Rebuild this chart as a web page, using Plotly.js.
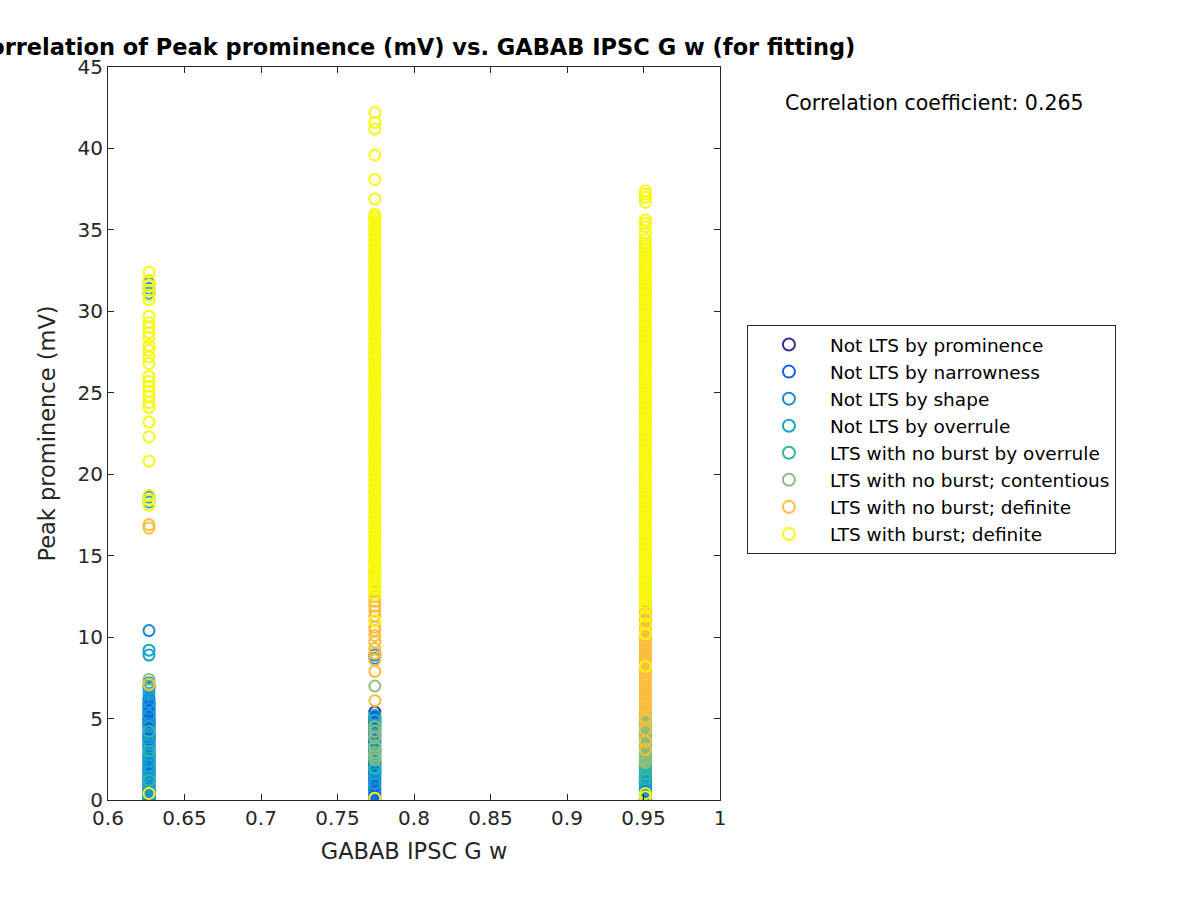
<!DOCTYPE html>
<html>
<head>
<meta charset="utf-8">
<script src="https://cdn.plot.ly/plotly-3.0.1.min.js"></script>
<style>html,body{margin:0;padding:0;background:#fff;}#chart{width:1200px;height:900px;}</style>
</head>
<body>
<div id="chart"></div>
<script>
// Column x positions (GABAB IPSC G w)
const xValues = [0.6268, 0.7744, 0.9512];

const categoryNames = [
  "Not LTS by prominence",
  "Not LTS by narrowness",
  "Not LTS by shape",
  "Not LTS by overrule",
  "LTS with no burst by overrule",
  "LTS with no burst; contentious",
  "LTS with no burst; definite",
  "LTS with burst; definite"
];
const categoryColors = ["#3D2A9C", "#0F62E8", "#1C86D9", "#10A5CB", "#2FB6A1", "#8ABF78", "#FCBD3C", "#F8F80E"];

// Peak prominence (mV) per category, per column [A, B, C]
const prominenceA = [4.6, 3.9, 1.2, 0.3];
const prominenceB = [0.1, 5.4, 5.0, 4.8, 3.6, 2.2];
const prominenceC = [0.3, 0.1];

const narrownessA = [0.03,0.14,0.26,0.37,0.49,0.61,0.72,0.84,0.95,1.07,1.19,1.3,1.42,1.53,1.65,1.77,1.88,2.0,2.11,2.23,2.35,2.46,2.58,2.69,2.81,2.93,3.04,3.16,3.27,3.39,3.51,3.62,3.74,3.85,3.97,4.09,4.2,4.32,4.43,4.55,4.67,4.78,4.9,5.01,5.13,5.25,5.36,5.48,5.59,5.71,5.83,5.94,6.06,6.2];
const narrownessB = [0.03,0.15,0.27,0.39,0.51,0.63,0.75,0.87,0.99,1.11,1.23,1.35,1.47,1.59,1.71,1.83,1.95,2.07,2.19,2.31,2.43,2.55,2.67,2.79,2.91,3.03,3.15,3.27,3.39,3.51,3.63,3.75,3.87,3.99,4.11,4.23,4.35,4.47,4.59,4.71,4.83,4.95,5.1];
const narrownessC = [0.03,0.14,0.26,0.38,0.5,0.62,0.74,0.86,0.98,1.1,1.22,1.34,1.46,1.58,1.7,1.9,2.1];

const shapeA = [10.4, 6.9, 5.6, 4.7, 3.4, 2.6, 1.9, 1.0, 0.5, 0.2, 31.4];
const shapeB = [8.7, 8.9, 4.3, 3.9, 2.6, 1.8, 1.3, 0.7];
const shapeC = [0.2, 0.6, 1.1, 1.4];

const overruleA = [9.2, 8.9, 7.2, 6.8, 6.5, 6.0, 5.2, 4.5, 4.0, 3.6, 3.2, 2.8, 2.4, 2.1, 1.7, 1.4, 0.9, 0.6, 0.1, 31.7, 31.1, 18.6, 18.3];
const overruleB = [5.2, 4.6, 3.4, 3.0, 2.4, 1.9, 1.6, 1.0];
const overruleC = [0.4, 0.7, 1.0, 1.3, 1.5, 1.8, 2.0, 2.2, 2.5];

const noBurstOverruleA = [7.0, 4.2, 3.0, 1.2];
const noBurstOverruleB = [4.9, 4.0, 3.2, 2.8, 2.0];
const noBurstOverruleC = [1.3, 1.6, 1.9, 2.1, 2.4, 2.7, 3.0, 3.3];

const contentiousA = [7.4];
const contentiousB = [7.0, 4.5, 4.2, 3.8, 3.3, 2.9, 2.7, 2.5];
const contentiousC = [2.3,2.42,2.54,2.66,2.78,2.9,3.02,3.14,3.26,3.38,3.5,3.62,3.74,3.86,3.98,4.1,4.22,4.34,4.46,4.58,4.7,4.82,4.94,5.06,5.18,5.3,5.42,5.54,5.6];

const definiteA = [16.7, 16.9, 7.1];
const definiteB = [6.1, 7.9, 8.6, 9.0, 9.3, 9.7, 10.1, 10.4, 10.6, 11.0, 11.3, 11.6, 11.9, 12.2, 12.5, 12.8, 13.1, 13.4, 13.7, 14.0];
const definiteC = [3.1,3.6,4.3,4.9,5.1,5.52,5.67,5.83,5.97,6.12,6.28,6.43,6.57,6.73,6.88,7.02,7.18,7.33,7.48,7.63,7.78,7.94,8.08,8.24,8.39,8.53,8.69,8.84,8.99,9.14,9.29,9.44,9.6,9.74,9.9,10.05,10.19,10.35,10.5,10.65,10.8,10.95,11.11,11.25,11.41,11.56,11.7,11.86,12.01,12.16,12.32,12.47,12.62,13.1,13.6];

const burstA = [0.4,18.1,18.4,18.7,20.8,22.3,23.2,24.1,24.4,24.8,25.1,25.4,25.7,26.0,26.8,27.2,27.6,27.9,28.4,28.7,29.0,29.3,29.7,30.7,31.0,31.3,31.6,31.9,32.4];
const burstB = [0.1,11.0,12.6,12.92,13.05,13.21,13.34,13.52,13.66,13.79,13.97,14.12,14.26,14.41,14.58,14.71,14.86,15.03,15.17,15.31,15.48,15.62,15.77,15.93,16.08,16.22,16.39,16.53,16.68,16.84,16.99,17.13,17.29,17.44,17.6,17.74,17.9,18.05,18.19,18.36,18.5,18.65,18.81,18.96,19.1,19.27,19.41,19.57,19.72,19.87,20.03,20.17,20.33,20.48,20.62,20.79,20.93,21.08,21.24,21.38,21.55,21.69,21.84,22.0,22.14,22.3,22.45,22.6,22.76,22.9,23.06,23.21,23.36,23.52,23.66,23.82,23.97,24.11,24.28,24.42,24.57,24.73,24.88,25.03,25.18,25.34,25.49,25.63,25.8,25.94,26.09,26.25,26.39,26.55,26.7,26.85,27.01,27.15,27.31,27.46,27.61,27.77,27.91,28.07,28.22,28.37,28.53,28.67,28.83,28.98,29.13,29.29,29.43,29.59,29.74,29.89,30.05,30.19,30.35,30.5,30.65,30.81,30.95,31.11,31.26,31.41,31.57,31.71,31.87,32.02,32.17,32.33,32.47,32.63,32.78,32.93,33.09,33.23,33.39,33.54,33.69,33.85,33.99,34.15,34.3,34.45,34.61,34.75,34.91,35.06,35.21,35.37,35.51,35.67,35.82,35.95,36.9,38.1,39.6,41.2,41.6,42.2];
const burstC = [0.4,0.2,8.2,10.2,10.8,11.3,11.8,12.1,12.31,12.46,12.6,12.77,12.91,13.06,13.22,13.37,13.51,13.68,13.82,13.97,14.13,14.27,14.43,14.58,14.72,14.89,15.03,15.18,15.34,15.48,15.64,15.79,15.94,16.1,16.24,16.4,16.55,16.7,16.86,17.0,17.16,17.31,17.46,17.62,17.76,17.92,18.07,18.22,18.38,18.52,18.68,18.83,18.98,19.14,19.28,19.44,19.59,19.74,19.9,20.04,20.2,20.35,20.5,20.66,20.8,20.96,21.11,21.26,21.42,21.56,21.72,21.87,22.02,22.18,22.32,22.48,22.63,22.78,22.94,23.08,23.24,23.39,23.54,23.7,23.84,24.0,24.15,24.3,24.46,24.6,24.76,24.91,25.06,25.22,25.36,25.52,25.67,25.82,25.98,26.12,26.28,26.43,26.58,26.74,26.88,27.04,27.19,27.34,27.5,27.64,27.8,27.95,28.1,28.26,28.4,28.56,28.71,28.86,29.02,29.16,29.32,29.47,29.62,29.78,29.92,30.08,30.23,30.38,30.54,30.68,30.84,30.99,31.14,31.3,31.44,31.6,31.75,31.9,32.06,32.2,32.36,32.51,32.66,32.82,32.96,33.12,33.27,33.42,33.58,33.72,33.88,34.03,34.18,34.4,34.8,35.2,35.4,35.6,36.7,37.0,37.2,37.4];

const xTickVals = [0.6,0.65,0.7,0.75,0.8,0.85,0.9,0.95,1];
const xTickText = ["0.6","0.65","0.7","0.75","0.8","0.85","0.9","0.95","1"];
const yTickVals = [0,5,10,15,20,25,30,35,40,45];

const seriesByCategory = [
  [prominenceA, prominenceB, prominenceC],
  [narrownessA, narrownessB, narrownessC],
  [shapeA, shapeB, shapeC],
  [overruleA, overruleB, overruleC],
  [noBurstOverruleA, noBurstOverruleB, noBurstOverruleC],
  [contentiousA, contentiousB, contentiousC],
  [definiteA, definiteB, definiteC],
  [burstA, burstB, burstC]
];

const traces = seriesByCategory.map((cols, i) => {
  const xs = [], ys = [];
  cols.forEach((vals, c) => { vals.forEach(v => { xs.push(xValues[c]); ys.push(v); }); });
  return {
    type: 'scatter', mode: 'markers', name: categoryNames[i], x: xs, y: ys,
    marker: {symbol: 'circle-open', size: 11, color: categoryColors[i], line: {width: 2, color: categoryColors[i]}},
    hoverinfo: 'x+y'
  };
});

const font = "DejaVu Sans, sans-serif";
const layout = {
  width: 1200, height: 900,
  paper_bgcolor: '#fff', plot_bgcolor: '#fff',
  margin: {l: 108, r: 480, t: 67, b: 100},
  font: {family: font, color: '#262626'},
  showlegend: true,
  title: {text: '<b>Correlation of Peak prominence (mV) vs. GABAB IPSC G w (for fitting)</b>',
          font: {family: font, size: 22.5, color: '#000'}, xref: 'paper', x: 0.5, xanchor: 'center', y: 0.948, yanchor: 'middle'},
  xaxis: {range: [0.6, 1], tickvals: xTickVals, ticktext: xTickText, ticks: 'inside', ticklen: 6,
          tickcolor: '#262626', showgrid: false, zeroline: false, showline: true, linecolor: '#262626', linewidth: 1,
          mirror: 'ticks', tickfont: {size: 20, family: font, color: '#262626'},
          title: {text: 'GABAB IPSC G w', font: {size: 22.5, family: font, color: '#262626'}, standoff: 14}},
  yaxis: {range: [0, 45], tickvals: yTickVals, ticks: 'inside', ticklen: 6,
          tickcolor: '#262626', showgrid: false, zeroline: false, showline: true, linecolor: '#262626', linewidth: 1,
          mirror: 'ticks', tickfont: {size: 20, family: font, color: '#262626'},
          title: {text: 'Peak prominence (mV)', font: {size: 22.5, family: font, color: '#262626'}, standoff: 15}},
  legend: {x: 1.044, y: 0.648, xanchor: 'left', yanchor: 'top', bordercolor: '#262626', borderwidth: 1,
           bgcolor: '#fff', font: {size: 18.5, family: font, color: '#000'}, itemsizing: 'constant', itemwidth: 72},
  annotations: [{text: 'Correlation coefficient: 0.265', xref: 'paper', yref: 'paper', x: 1.35, y: 0.951,
                 xanchor: 'center', yanchor: 'middle', showarrow: false, font: {size: 20.5, family: font, color: '#000'}}]
};

Plotly.newPlot('chart', traces, layout, {displayModeBar: false, staticPlot: true});
</script>
</body>
</html>
